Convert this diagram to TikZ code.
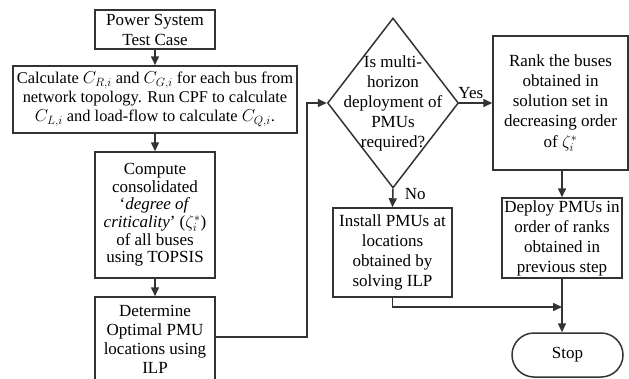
\documentclass[tikz,border=0pt]{standalone}
\usepackage{fontspec}
\setmainfont{Liberation Serif}
\usetikzlibrary{shapes.geometric,arrows.meta}
\begin{document}
\begin{tikzpicture}[x=1pt,y=-1pt,
    line width=1.5pt,
    every node/.style={font=\fontsize{17}{20}\selectfont},
    stepbox/.style={draw=black!80, align=center, inner sep=0pt},
    arr/.style={draw=black!80, -{Triangle[length=9pt,width=8pt]}}]
  \useasboundingbox (0,0) rectangle (629,378);
  \node[stepbox, minimum width=120pt, minimum height=39pt] (test) at (155,29.5)
    {Power System\\Test Case};
  \node[stepbox, minimum width=284pt, minimum height=67pt, font=\fontsize{16.4}{19}\selectfont] (calc) at (155,99.5)
    {Calculate $C_{R,i}$ and $C_{G,i}$ for each bus from\\network topology. Run CPF to calculate\\$C_{L,i}$ and load-flow to calculate $C_{Q,i}$.};
  \node[stepbox, minimum width=120pt, minimum height=126pt, font=\fontsize{17}{17.6}\selectfont] (crit) at (155,215)
    {Compute\\consolidated\\`\textit{degree of}\\\textit{criticality}' ($\zeta_i^*$)\\of all buses\\using TOPSIS};
  \node[stepbox, minimum width=120pt, minimum height=84pt, font=\fontsize{17}{19}\selectfont] (ilp) at (155,339)
    {Determine\\Optimal PMU\\locations using\\ILP};
  \node[draw=black!80, diamond, minimum width=131pt, minimum height=170pt, inner sep=0pt] (multi) at (393,103) {};
  \node[align=center] (multitext) at (multi.center)
    {Is multi-\\horizon\\deployment of\\PMUs\\required?};
  \node[stepbox, minimum width=135pt, minimum height=134pt] (rank) at (560.5,103)
    {Rank the buses\\obtained in\\solution set in\\decreasing order\\[1.5pt]of $\zeta_i^*$};
  \node[stepbox, minimum width=120pt, minimum height=80pt] (deploy) at (562,238)
    {Deploy PMUs in\\order of ranks\\obtained in\\previous step};
  \node[stepbox, minimum width=119pt, minimum height=89pt] (install) at (392.5,252.5)
    {Install PMUs at\\locations\\obtained by\\solving ILP};
  \node[stepbox, rounded corners=22pt, minimum width=111pt, minimum height=44pt] (stop) at (567.5,355)
    {Stop};
  \coordinate (bend) at (307,103);
  \coordinate (join) at (562,307);

  % main column
  \draw[arr] (test) -- (calc);
  \draw[arr] (calc.south -| crit.north) -- (crit);
  \draw[arr] (crit) -- (ilp);
  \draw[arr] (ilp.east |- 0,337) -| (bend) -- (multi.west);
  % decision
  \draw[arr] (multi.east) -- node[above, pos=0.35] (yes) {Yes} (rank.west);
  \draw[arr] (multi.south) -- node[right, pos=0.3, xshift=8pt] (no) {No} (install.north);
  \draw[arr] (rank.south -| deploy.north) -- (deploy);
  \draw[arr] (deploy.south) -- (deploy.south |- stop.north);
  \draw[arr] (install.south) |- (join);
\end{tikzpicture}
\end{document}
